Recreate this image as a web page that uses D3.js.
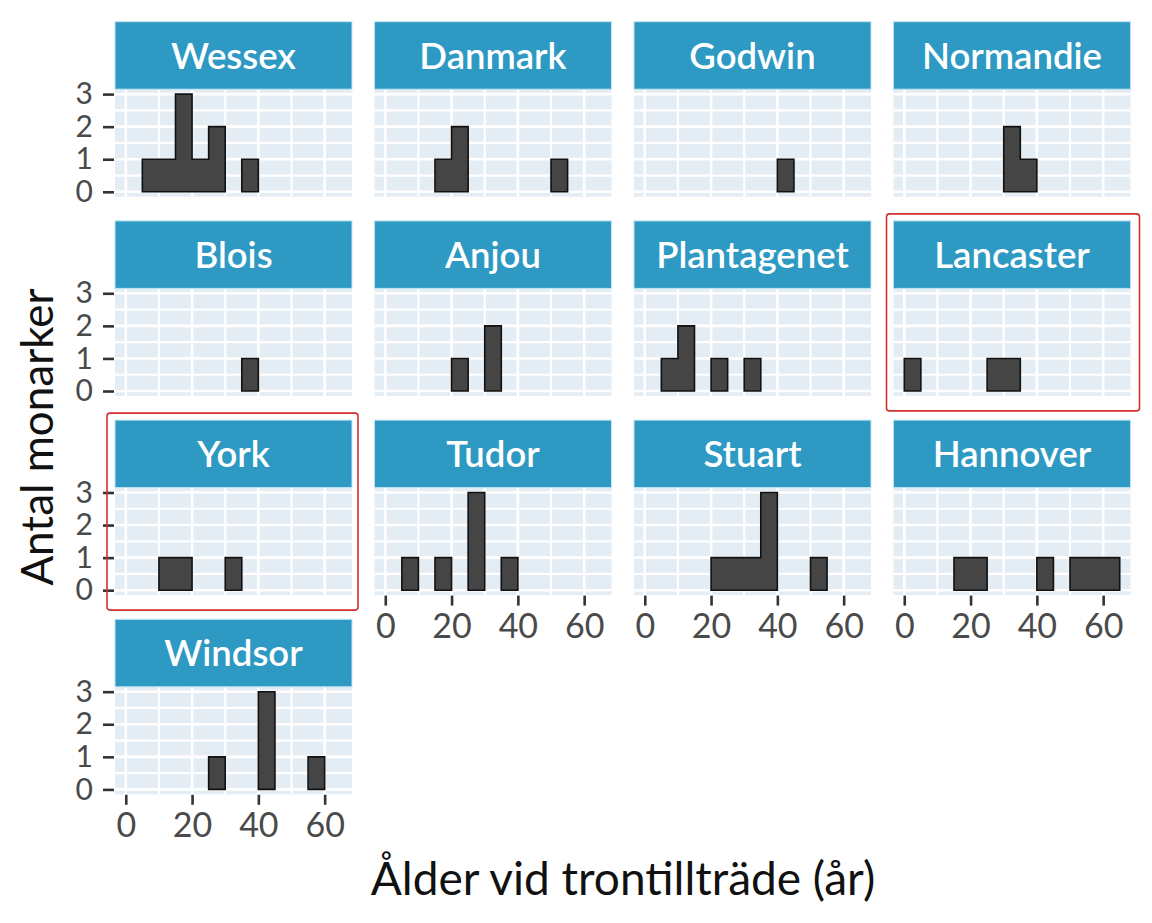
<!DOCTYPE html>
<html>
<head>
<meta charset="utf-8">
<script src="https://cdn.jsdelivr.net/npm/d3@7"></script>
<style>
  html, body { margin: 0; padding: 0; background: #ffffff; }
  svg { display: block; }
</style>
</head>
<body>
<svg id="chart" width="1152" height="923"></svg>
<script>
// ---- Data ----
const houses = ["Wessex", "Danmark", "Godwin", "Normandie",
                "Blois", "Anjou", "Plantagenet", "Lancaster",
                "York", "Tudor", "Stuart", "Hannover", "Windsor"];
// lower edges of 5-year bins
const binStarts = [0, 5, 10, 15, 20, 25, 30, 35, 40, 45, 50, 55, 60];
const binWidth = 5;
// counts per bin for each house
const wessex      = [0, 1, 1, 3, 1, 2, 0, 1, 0, 0, 0, 0, 0];
const danmark     = [0, 0, 0, 1, 2, 0, 0, 0, 0, 0, 1, 0, 0];
const godwin      = [0, 0, 0, 0, 0, 0, 0, 0, 1, 0, 0, 0, 0];
const normandie   = [0, 0, 0, 0, 0, 0, 2, 1, 0, 0, 0, 0, 0];
const blois       = [0, 0, 0, 0, 0, 0, 0, 1, 0, 0, 0, 0, 0];
const anjou       = [0, 0, 0, 0, 1, 0, 2, 0, 0, 0, 0, 0, 0];
const plantagenet = [0, 1, 2, 0, 1, 0, 1, 0, 0, 0, 0, 0, 0];
const lancaster   = [1, 0, 0, 0, 0, 1, 1, 0, 0, 0, 0, 0, 0];
const york        = [0, 0, 1, 1, 0, 0, 1, 0, 0, 0, 0, 0, 0];
const tudor       = [0, 1, 0, 1, 0, 3, 0, 1, 0, 0, 0, 0, 0];
const stuart      = [0, 0, 0, 0, 1, 1, 1, 3, 0, 0, 1, 0, 0];
const hannover    = [0, 0, 0, 1, 1, 0, 0, 0, 1, 0, 1, 1, 1];
const windsor     = [0, 0, 0, 0, 0, 1, 0, 0, 3, 0, 0, 1, 0];
const counts = [wessex, danmark, godwin, normandie, blois, anjou, plantagenet,
                lancaster, york, tudor, stuart, hannover, windsor];
const xTicks = [0, 20, 40, 60];
const xGrid = [0, 10, 20, 30, 40, 50, 60];
const yTicks = [0, 1, 2, 3];
const yGrid = [0, 0.5, 1, 1.5, 2, 2.5, 3];
const highlighted = ["Lancaster", "York"];
const xTitle = "Ålder vid trontillträde (år)";
const yTitle = "Antal monarker";

// ---- Layout ----
const ncol = 4;
const panelW = 237, panelH = 107.5, stripH = 67.5;
const colStep = 259.5, rowStep = 199.2;
const left0 = 115, top0 = 21.7;
const fontFam = "Lato, 'Noto Sans', sans-serif";

const svg = d3.select("#chart");
svg.append("rect").attr("width", 1152).attr("height", 923).attr("fill", "#ffffff");

const x = d3.scaleLinear().domain([-3.25, 68.25]).range([0, panelW]);
const y = d3.scaleLinear().domain([-0.15, 3.15]).range([panelH, 0]);

const n = houses.length;
const nrow = Math.ceil(n / ncol);

houses.forEach((h, i) => {
  const r = Math.floor(i / ncol), c = i % ncol;
  const px = left0 + c * colStep;
  const sy = top0 + r * rowStep;
  const py = sy + stripH;
  const g = svg.append("g").attr("transform", `translate(${px},${py})`);

  // strip
  svg.append("rect").attr("x", px).attr("y", sy).attr("width", panelW).attr("height", stripH)
    .attr("fill", "#2e9ac3").attr("stroke", "#bfe5f3").attr("stroke-width", 1);
  svg.append("text").attr("x", px + panelW / 2).attr("y", sy + stripH / 2)
    .attr("dy", "0.36em").attr("text-anchor", "middle")
    .attr("font-family", fontFam).attr("font-weight", 600).attr("font-size", 36.5)
    .attr("fill", "#ffffff").text(h);

  // panel background
  g.append("rect").attr("width", panelW).attr("height", panelH).attr("fill", "#e4edf4");
  // grid
  g.selectAll(".vg").data(xGrid).join("line")
    .attr("x1", d => x(d)).attr("x2", d => x(d)).attr("y1", 0).attr("y2", panelH)
    .attr("stroke", "#ffffff").attr("stroke-width", d => d % 20 === 0 ? 2.6 : 2.2);
  g.selectAll(".hg").data(yGrid).join("line")
    .attr("y1", d => y(d)).attr("y2", d => y(d)).attr("x1", 0).attr("x2", panelW)
    .attr("stroke", "#ffffff").attr("stroke-width", d => d % 1 === 0 ? 2.6 : 2.2);

  // bars: each contiguous run of non-empty bins drawn as one stepped shape
  const cs = counts[i];
  let k = 0;
  while (k < cs.length) {
    if (cs[k] > 0) {
      const p = d3.path();
      p.moveTo(x(binStarts[k]), y(0));
      let j = k;
      while (j < cs.length && cs[j] > 0) {
        p.lineTo(x(binStarts[j]), y(cs[j]));
        p.lineTo(x(binStarts[j] + binWidth), y(cs[j]));
        j++;
      }
      p.lineTo(x(binStarts[j - 1] + binWidth), y(0));
      p.closePath();
      g.append("path").attr("d", p.toString()).attr("fill", "#454545")
        .attr("stroke", "#111111").attr("stroke-width", 1.6).attr("stroke-linejoin", "miter");
      k = j;
    } else k++;
  }

  // y axis on first column
  if (c === 0) {
    const ya = g.append("g").attr("transform", "translate(-1,0)")
      .call(d3.axisLeft(y).tickValues(yTicks).tickSize(11).tickPadding(10).tickFormat(d3.format("d")));
    ya.select(".domain").remove();
    ya.selectAll(".tick line").attr("stroke", "#333333").attr("stroke-width", 2.6);
    ya.selectAll(".tick text").attr("font-family", fontFam).attr("font-size", 30)
      .attr("fill", "#4a4a4a");
  }
  // x axis on lowest panel of each column
  const lastRowForCol = (c <= (n - 1) % ncol) ? nrow - 1 : nrow - 2;
  if (r === lastRowForCol) {
    const xa = g.append("g").attr("transform", `translate(0,${panelH + 0.5})`)
      .call(d3.axisBottom(x).tickValues(xTicks).tickSize(10).tickPadding(8).tickFormat(d3.format("d")));
    xa.select(".domain").remove();
    xa.selectAll(".tick line").attr("stroke", "#333333").attr("stroke-width", 2.6);
    xa.selectAll(".tick text").attr("font-family", fontFam).attr("font-size", 34)
      .attr("fill", "#4a4a4a");
  }

  // highlight boxes
  if (highlighted.includes(h)) {
    svg.append("rect")
      .attr("x", px - (c === 0 ? 8 : 7)).attr("y", sy - 7)
      .attr("width", panelW + (c === 0 ? 14 : 16)).attr("height", stripH + panelH + 22)
      .attr("rx", 3).attr("fill", "none").attr("stroke", "#d0312d").attr("stroke-width", 1.6);
  }
});

// axis titles
svg.append("text").attr("x", 623).attr("y", 895).attr("text-anchor", "middle")
  .attr("font-family", fontFam).attr("font-size", 46).attr("fill", "#111111").text(xTitle);
svg.append("text").attr("transform", "translate(53,437) rotate(-90)").attr("text-anchor", "middle")
  .attr("font-family", fontFam).attr("font-size", 44).attr("fill", "#111111").text(yTitle);
</script>
</body>
</html>
